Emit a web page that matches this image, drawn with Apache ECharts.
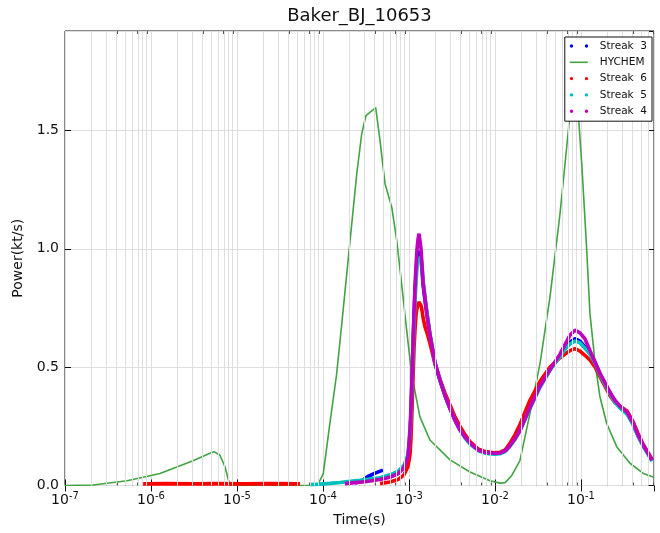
<!DOCTYPE html>
<html>
<head>
<meta charset="utf-8">
<script src="https://cdn.jsdelivr.net/npm/echarts@6/dist/echarts.min.js"></script>
<style>
  html, body { margin: 0; padding: 0; background: #ffffff; }
  #chart { width: 660px; height: 533px; }
</style>
</head>
<body>
<div id="chart"></div>
<script>
const FONT = 'DejaVu Sans';

// HYCHEM model power history [time (s), power (kt/s)]
const hychem = [
  [1e-7, 0], [2.12e-7, 0.002], [5.26e-7, 0.02], [1.0e-6, 0.042], [1.27e-6, 0.051],
  [3.08e-6, 0.105], [4.85e-6, 0.136], [5.4e-6, 0.143], [6.34e-6, 0.128], [7.24e-6, 0.08],
  [7.85e-6, 0.03], [8.3e-6, 0], [5.0e-5, 0], [8.07e-5, 0], [8.75e-5, 0.005],
  [1.007e-4, 0.05], [1.2e-4, 0.26], [1.44e-4, 0.47], [1.65e-4, 0.68], [1.89e-4, 0.895],
  [2.16e-4, 1.106], [2.47e-4, 1.317], [2.82e-4, 1.486], [3.16e-4, 1.563], [4.1e-4, 1.596],
  [4.6e-4, 1.458], [5.26e-4, 1.275], [6.3e-4, 1.176], [7.2e-4, 1.036], [8.2e-4, 0.853],
  [9.4e-4, 0.656], [1.07e-3, 0.473], [1.34e-3, 0.29], [1.75e-3, 0.192], [3.0e-3, 0.108],
  [5.12e-3, 0.057], [8.75e-3, 0.02], [1.143e-2, 0.01], [1.31e-2, 0.012], [1.55e-2, 0.04],
  [1.95e-2, 0.105], [2.55e-2, 0.305], [3.34e-2, 0.516], [4.36e-2, 0.797], [5.7e-2, 1.148],
  [6.82e-2, 1.43], [7.45e-2, 1.57], [8.3e-2, 1.66], [9.3e-2, 1.57], [0.102, 1.36],
  [0.116, 1.008], [0.127, 0.727], [0.146, 0.516], [0.166, 0.375], [0.199, 0.262],
  [0.26, 0.164], [0.371, 0.094], [0.53, 0.051], [0.706, 0.035]
];

// Streak records before the main pulse [time, power]; a null power is a gap in the record
const streak3Early = [[2.35e-4, 0.01], [2.84e-4, 0.02], [3.33e-4, 0.038], [4.03e-4, 0.052], [4.99e-4, 0.065], [5.5e-4, null]];
const streak6Early = [[8.1e-7, 0.007], [1.5e-6, 0.008], [3e-6, 0.007], [6e-6, 0.008], [1.2e-5, 0.007],
                      [2.5e-5, 0.008], [5.4e-5, 0.007], [1e-4, null], [4.6e-4, 0.008]];
const streak5Early = [[7.06e-5, 0.004], [9.2e-5, 0.006], [1.2e-4, 0.009], [1.58e-4, 0.013], [2.06e-4, 0.018],
                      [2.69e-4, 0.022], [3.52e-4, 0.027], [4.6e-4, 0.033]];
const streak4Early = [[1.8e-4, 0.008], [2.35e-4, 0.012], [3.08e-4, 0.016], [4.03e-4, 0.022], [5.26e-4, 0.03]];

// Sampling times of the main pulse, shared by the streak records
const pulseTime = [
  6.0e-4, 7.45e-4, 8.75e-4, 9.73e-4, 1.027e-3, 1.055e-3, 1.084e-3, 1.114e-3, 1.144e-3, 1.175e-3,
  1.207e-3, 1.24e-3, 1.273e-3, 1.307e-3, 1.343e-3, 1.38e-3, 1.417e-3, 1.455e-3, 1.535e-3, 1.62e-3,
  1.754e-3, 2.0e-3, 2.29e-3, 2.62e-3, 3.0e-3, 3.43e-3, 3.92e-3, 4.48e-3, 5.12e-3, 6.34e-3,
  7.65e-3, 8.75e-3, 1.0e-2, 1.143e-2, 1.31e-2, 1.49e-2, 1.71e-2, 1.95e-2, 2.55e-2, 3.34e-2,
  4.36e-2, 5.7e-2, 6.52e-2, 7.45e-2, 8.5e-2, 9.73e-2, 0.111, 0.127, 0.146, 0.166,
  0.19, 0.217, 0.248, 0.284, 0.343, 0.403, 0.46, 0.526, 0.601, 0.67
];
const streak3Power = [
  0.035, 0.05, 0.08, 0.12, 0.2, 0.3, 0.45, 0.6, 0.72, 0.82,
  0.9, 0.95, 0.98, 0.99, 0.994, 0.96, 0.91, 0.85, 0.78, 0.72,
  0.635, 0.52, 0.445, 0.38, 0.325, 0.275, 0.235, 0.205, 0.18, 0.152,
  0.142, 0.138, 0.137, 0.138, 0.148, 0.17, 0.2, 0.235, 0.33, 0.42,
  0.49, 0.55, 0.58, 0.605, 0.62, 0.61, 0.585, 0.56, 0.52, 0.47,
  0.43, 0.39, 0.355, 0.33, 0.305, 0.26, 0.21, 0.17, 0.135, 0.105
];
const streak6Power = [
  0.015, 0.025, 0.045, 0.08, 0.13, 0.2, 0.32, 0.45, 0.58, 0.66,
  0.72, 0.75, 0.765, 0.775, 0.776, 0.76, 0.74, 0.71, 0.67, 0.645,
  0.6, 0.515, 0.45, 0.39, 0.34, 0.29, 0.25, 0.215, 0.185, 0.155,
  0.143, 0.14, 0.138, 0.14, 0.15, 0.178, 0.215, 0.258, 0.36, 0.44,
  0.5, 0.54, 0.555, 0.57, 0.578, 0.568, 0.55, 0.53, 0.5, 0.46,
  0.42, 0.38, 0.35, 0.335, 0.315, 0.27, 0.22, 0.175, 0.14, 0.11
];
const streak5Power = [
  0.045, 0.06, 0.085, 0.13, 0.22, 0.3, 0.42, 0.55, 0.68, 0.78,
  0.86, 0.92, 0.95, 0.96, 0.963, 0.965, 0.93, 0.87, 0.8, 0.73,
  0.64, 0.52, 0.445, 0.38, 0.325, 0.275, 0.235, 0.2, 0.175, 0.148,
  0.137, 0.133, 0.132, 0.134, 0.143, 0.165, 0.195, 0.23, 0.325, 0.415,
  0.487, 0.545, 0.575, 0.598, 0.61, 0.603, 0.58, 0.555, 0.515, 0.468,
  0.428, 0.388, 0.352, 0.327, 0.302, 0.258, 0.21, 0.168, 0.133, 0.103
];
const streak4Power = [
  0.036, 0.05, 0.075, 0.12, 0.24, 0.33, 0.46, 0.6, 0.73, 0.84,
  0.93, 1.0, 1.04, 1.064, 1.06, 1.0, 0.93, 0.86, 0.79, 0.72,
  0.635, 0.52, 0.445, 0.38, 0.325, 0.275, 0.235, 0.205, 0.18, 0.15,
  0.14, 0.137, 0.136, 0.137, 0.146, 0.168, 0.198, 0.232, 0.33, 0.42,
  0.49, 0.555, 0.595, 0.635, 0.656, 0.645, 0.62, 0.57, 0.52, 0.475,
  0.435, 0.395, 0.36, 0.335, 0.31, 0.265, 0.215, 0.172, 0.137, 0.107
];

// Axis ranges and tick values
const timeMin = 1e-7;
const timeMax = 0.706;
const powerMax = 1.92;
const powerTicks = [0, 0.5, 1.0, 1.5];

function streakData(early, power) {
  return early.concat(pulseTime.map((t, i) => [t, power[i]]));
}

// Minor log-decade positions (2..9 x 10^e), expressed as exponents for a linear helper axis
const expMin = Math.log10(timeMin);
const expMax = Math.log10(timeMax);
const minorExp = [];
for (let e = -7; e <= -1; e++) {
  for (let m = 2; m <= 9; m++) {
    const x = e + Math.log10(m);
    if (x < expMax) minorExp.push(x);
  }
}

const dotsIcon = 'path://M0,0M25,4M0,2a1.7,1.7 0 1,0 3.4,0a1.7,1.7 0 1,0 -3.4,0ZM15,2a1.7,1.7 0 1,0 3.4,0a1.7,1.7 0 1,0 -3.4,0Z';
const lineIcon = 'path://M0,0M25,4M0,1.2H18V2.8H0Z';

const C = { blue: '#0000ff', green: '#42a342', red: '#ff0000', cyan: '#00bfbf', magenta: '#bf00bf' };

function expLabel(v) {
  const e = Math.round(Math.log10(v));
  return '{b|10}{s|' + e + '}';
}

const gridColor = '#dedede';
const axisColor = '#111';

const chart = echarts.init(document.getElementById('chart'), null, { renderer: 'canvas' });

function streakSeries(name, color, data) {
  return {
    name, type: 'line', data, showSymbol: false, symbol: 'none',
    lineStyle: { color, width: 3.6 }, itemStyle: { color },
    connectNulls: false, clip: true, z: 3, emphasis: { disabled: true }
  };
}

// Linear helper axis over log10(time), used only for minor grid lines and minor ticks
function minorAxis(position) {
  return {
    type: 'value', min: expMin, max: expMax, position,
    axisLine: { show: false }, axisLabel: { show: false }, splitLine: { show: false },
    axisTick: { show: true, inside: true, length: 3, customValues: minorExp, lineStyle: { color: '#555' } }
  };
}

chart.setOption({
  animation: false,
  backgroundColor: '#ffffff',
  textStyle: { fontFamily: FONT },
  grid: {
    left: 65, right: 6, top: 31, bottom: 47.5,
    containLabel: false, outerBoundsMode: 'none',
    show: true, borderColor: axisColor, borderWidth: 1, backgroundColor: 'transparent'
  },
  graphic: [{
    type: 'text', x: 359.5, y: 16, z: 10,
    style: {
      text: 'Baker_BJ_10653', font: '18px "DejaVu Sans"', fill: '#111',
      align: 'center', verticalAlign: 'middle', textAlign: 'center', textVerticalAlign: 'middle'
    }
  }],
  legend: {
    orient: 'vertical', right: 8, top: 37,
    padding: [3, 5, 4, 5], itemGap: 4.3,
    itemWidth: 25, itemHeight: 4,
    backgroundColor: '#ffffff', borderColor: '#111', borderWidth: 1,
    itemStyle: { borderWidth: 0 },
    textStyle: { fontFamily: FONT, fontSize: 10.5, color: '#111', lineHeight: 12 },
    data: [
      { name: 'Streak  3', icon: dotsIcon },
      { name: 'HYCHEM', icon: lineIcon },
      { name: 'Streak  6', icon: dotsIcon },
      { name: 'Streak  5', icon: dotsIcon },
      { name: 'Streak  4', icon: dotsIcon }
    ],
    selectedMode: false, z: 20
  },
  xAxis: [{
    type: 'log', logBase: 10, min: timeMin, max: timeMax,
    name: 'Time(s)', nameLocation: 'middle', nameGap: 28,
    nameTextStyle: { fontFamily: FONT, fontSize: 14, color: '#111' },
    axisLine: { show: false },
    axisTick: { show: true, inside: true, length: 6, lineStyle: { color: axisColor } },
    axisLabel: {
      margin: 6, showMaxLabel: false, formatter: expLabel,
      rich: {
        b: { fontFamily: FONT, fontSize: 14, color: '#111', lineHeight: 16, verticalAlign: 'bottom' },
        s: { fontFamily: FONT, fontSize: 10, color: '#111', lineHeight: 16, verticalAlign: 'top', padding: [0, 0, 5, 0] }
      }
    },
    splitLine: { show: true, lineStyle: { color: gridColor, width: 1 } }
  }, {
    type: 'log', logBase: 10, min: timeMin, max: timeMax, position: 'top',
    axisLine: { show: false }, axisLabel: { show: false },
    axisTick: { show: true, inside: true, length: 6, lineStyle: { color: axisColor } },
    splitLine: { show: false }
  },
  minorAxis('bottom'),
  minorAxis('top')],
  yAxis: [{
    type: 'value', min: 0, max: powerMax, interval: 0.5,
    name: 'Power(kt/s)', nameLocation: 'middle', nameGap: 37,
    nameTextStyle: { fontFamily: FONT, fontSize: 14, color: '#111' },
    axisLine: { show: false },
    axisTick: { show: true, inside: true, length: 6, lineStyle: { color: axisColor } },
    axisLabel: {
      margin: 6, showMaxLabel: false, fontFamily: FONT, fontSize: 14, color: '#111',
      formatter: v => (powerTicks.indexOf(v) >= 0 ? v.toFixed(1) : '')
    },
    splitLine: { show: true, lineStyle: { color: gridColor, width: 1 } }
  }, {
    type: 'value', min: 0, max: powerMax, interval: 0.5, position: 'right',
    axisLine: { show: false }, axisLabel: { show: false },
    axisTick: { show: true, inside: true, length: 6, lineStyle: { color: axisColor } },
    splitLine: { show: false }
  }],
  series: [
    {
      name: 'minor grid', type: 'line', data: [], xAxisIndex: 2, z: 1, silent: true,
      markLine: {
        silent: true, symbol: 'none', label: { show: false },
        lineStyle: { color: gridColor, width: 1, type: 'solid' },
        emphasis: { disabled: true }, animation: false,
        data: minorExp.map(x => ({ xAxis: x }))
      }
    },
    streakSeries('Streak  3', C.blue, streakData(streak3Early, streak3Power)),
    {
      name: 'HYCHEM', type: 'line', data: hychem, showSymbol: false, symbol: 'none',
      lineStyle: { color: C.green, width: 1.6 }, itemStyle: { color: C.green },
      clip: true, z: 3, emphasis: { disabled: true }
    },
    streakSeries('Streak  6', C.red, streakData(streak6Early, streak6Power)),
    streakSeries('Streak  5', C.cyan, streakData(streak5Early, streak5Power)),
    streakSeries('Streak  4', C.magenta, streakData(streak4Early, streak4Power))
  ]
});
</script>
</body>
</html>
